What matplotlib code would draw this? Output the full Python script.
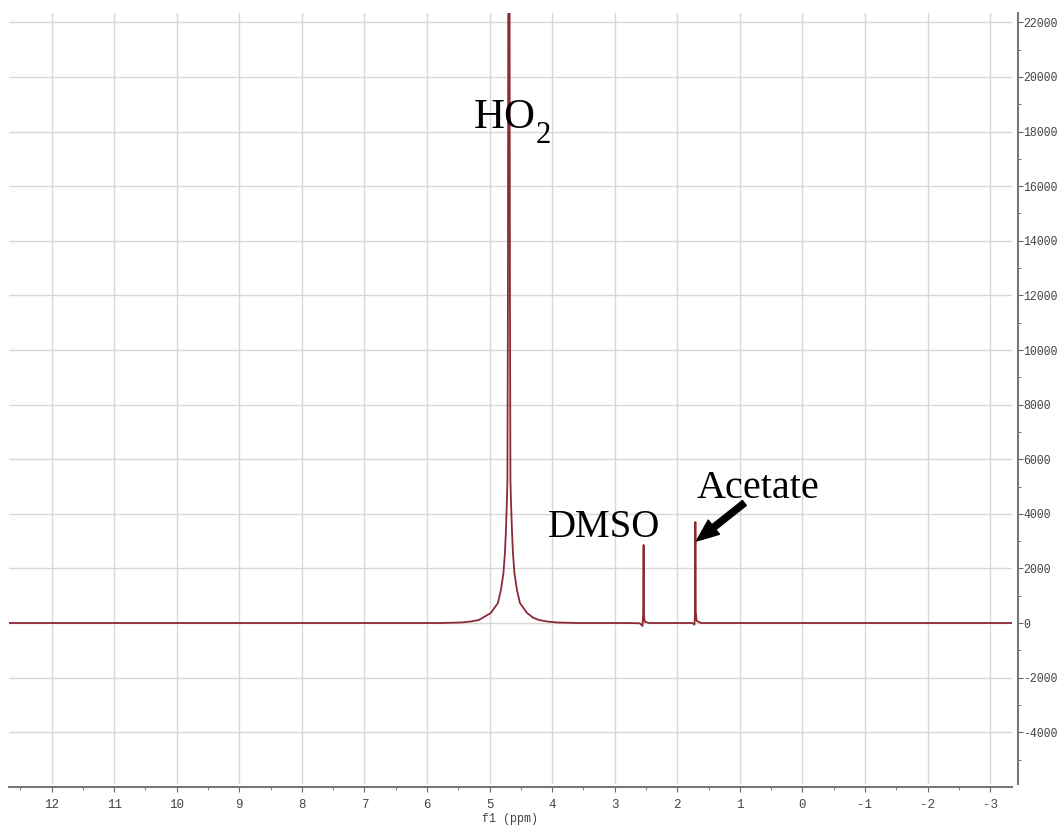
import matplotlib
matplotlib.use("Agg")
import matplotlib.pyplot as plt
from matplotlib.ticker import MultipleLocator

serif = 'Liberation Serif'
plt.rcParams['axes.unicode_minus'] = False

# spectrum (ppm, intensity)
ppm = [12.70, 8.00, 6.00, 5.80, 5.60, 5.45, 5.30, 5.17, 4.98, 4.866, 4.818,
       4.778, 4.754, 4.738, 4.722, 4.714, 4.706, 4.690, 4.674, 4.666, 4.658,
       4.642, 4.626, 4.602, 4.562, 4.514, 4.40, 4.30, 4.21, 4.08, 3.93, 3.60,
       2.80, 2.60, 2.555, 2.545, 2.538, 2.532, 2.52, 2.45, 2.00, 1.76, 1.725,
       1.716, 1.710, 1.704, 1.69, 1.62, 0.00, -3.40]
intensity = [0, 0, 0, 0, 10, 20, 55, 110, 366, 732, 1209,
             1831, 2564, 3407, 4505, 5238, 12000, 42000, 12000, 5238, 4505,
             3407, 2564, 1831, 1209, 732, 366, 190, 110, 55, 20, 0,
             0, -10, -110, 300, 2857, 300, 50, 0, 0, 0, -60,
             400, 3700, 400, 80, 0, 0, 0]

x_ticks = list(range(12, -4, -1))
y_ticks = list(range(-4000, 22001, 2000))

fig = plt.figure(figsize=(10.6, 8.3), dpi=100)
ax = fig.add_axes([9 / 1060, 1 - 784 / 830, 1003 / 1060, 771 / 830])

ax.plot(ppm, intensity, color='#8a2a35', lw=1.3, zorder=3)

ax.set_xlim(12.68, -3.35)
ax.set_ylim(-5897, 22344)

ax.xaxis.set_minor_locator(MultipleLocator(0.5))
ax.yaxis.set_minor_locator(MultipleLocator(1000))
ax.set_yticks(y_ticks)
ax.set_xticks(x_ticks)

ax.grid(True, which='major', color='#d8d8d8', lw=1.0)
ax.set_axisbelow(True)

ax.yaxis.tick_right()
for s in ['top', 'left']:
    ax.spines[s].set_visible(False)
ax.spines['right'].set_position(('outward', 4))
ax.spines['bottom'].set_position(('outward', 2))
for s in ['right', 'bottom']:
    ax.spines[s].set_color('#777777')
    ax.spines[s].set_linewidth(1.5)

ax.tick_params(which='major', length=3.5, color='#666666', labelcolor='#444444',
               labelsize=8.3)
ax.tick_params(axis='y', which='major', pad=0.5)
ax.tick_params(axis='x', which='major', pad=5, labelsize=9)
ax.tick_params(which='minor', length=2.5, color='#666666')
for lab in ax.get_xticklabels() + ax.get_yticklabels():
    lab.set_family('Liberation Mono')

ax.set_xlabel('f1 (ppm)', family='Liberation Mono', size=8.5,
              color='#444444', labelpad=2)

# labels
ax.text(5.256, 18132, 'HO', fontsize=31, family=serif,
        ha='left', va='baseline')
ax.text(4.27, 17580, '2', fontsize=22, family=serif,
        ha='left', va='baseline')
ax.text(4.07, 3150, 'DMSO', fontsize=28, family=serif, ha='left', va='baseline')
ax.text(1.693, 4579, 'Acetate', fontsize=29, family=serif,
        ha='left', va='baseline')
ax.annotate('', xy=(1.693, 3004), xytext=(0.927, 4396),
            arrowprops=dict(arrowstyle='simple,head_length=1.6,head_width=1.3,tail_width=0.45',
                            color='black', shrinkA=0, shrinkB=0))

fig.savefig('out.png', dpi=100)
